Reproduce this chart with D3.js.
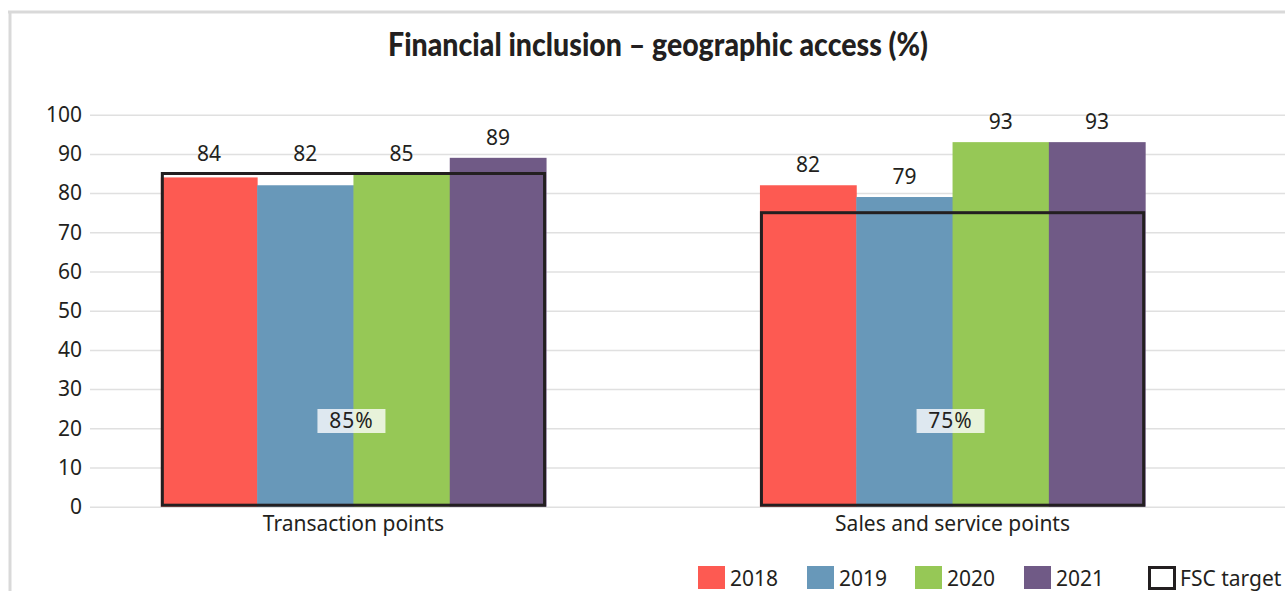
<!DOCTYPE html>
<html>
<head>
<meta charset="utf-8">
<script src="https://cdn.jsdelivr.net/npm/d3@7"></script>
<style>
  body { margin: 0; background: #fff; }
  svg { display: block; }
  text { font-family: "Noto Sans", "Open Sans", sans-serif; fill: #231f20; }
</style>
</head>
<body>
<svg width="1285" height="591"></svg>
<script>
// data
var categories = ["Transaction points", "Sales and service points"];
var years = ["2018", "2019", "2020", "2021"];
var values2018 = [84, 82];
var values2019 = [82, 79];
var values2020 = [85, 93];
var values2021 = [89, 93];
var fscTarget = [85, 75];
var yTicks = [0, 10, 20, 30, 40, 50, 60, 70, 80, 90, 100];
var colors = ["#fd5a52", "#6898b9", "#96c856", "#705a86"];

var series = [values2018, values2019, values2020, values2021];

var svg = d3.select("svg");

// frame lines
svg.append("line").attr("x1", 8).attr("x2", 1285).attr("y1", 12).attr("y2", 12)
  .attr("stroke", "#d9d9d9").attr("stroke-width", 3);
svg.append("line").attr("x1", 10).attr("x2", 10).attr("y1", 12).attr("y2", 591)
  .attr("stroke", "#d9d9d9").attr("stroke-width", 3);

// title
svg.append("text")
  .attr("x", 658).attr("y", 56)
  .attr("text-anchor", "middle")
  .attr("textLength", 540).attr("lengthAdjust", "spacingAndGlyphs")
  .style("font-family", "Lato, 'Open Sans', sans-serif")
  .style("font-weight", "900")
  .style("font-size", "32px")
  .text("Financial inclusion \u2013 geographic access (%)");

var y = d3.scaleLinear().domain([0, 100]).range([506.7, 114.7]);

var x = d3.scaleBand().domain(categories).range([53, 1253])
  .paddingInner(0.357).paddingOuter(0.18);

var xs = d3.scaleBand().domain(years).range([0, x.bandwidth()]);

// gridlines + y axis labels
var yAxis = svg.append("g").attr("transform", "translate(90,0)")
  .call(d3.axisLeft(y).tickValues(yTicks).tickSize(-1195).tickPadding(8));
yAxis.select(".domain").remove();
yAxis.selectAll(".tick line").attr("stroke", "#e0e0e0").attr("stroke-width", 1.5);
yAxis.selectAll(".tick text").style("font-size", "21px").attr("fill", "#231f20")
  .style("font-family", "'Noto Sans', sans-serif");

// bars
var groups = svg.selectAll(".grp").data(categories).enter().append("g")
  .attr("class", "grp")
  .attr("transform", function(d) { return "translate(" + x(d) + ",0)"; });

years.forEach(function(yr, si) {
  groups.append("rect")
    .attr("x", xs(yr))
    .attr("width", xs.bandwidth() + 0.5)
    .attr("y", function(d, i) { return y(series[si][i]); })
    .attr("height", function(d, i) { return y(0) - y(series[si][i]); })
    .attr("fill", colors[si]);
});

// FSC target boxes
groups.append("rect")
  .attr("x", 1.5)
  .attr("width", x.bandwidth() - 3)
  .attr("y", function(d, i) { return y(fscTarget[i]); })
  .attr("height", function(d, i) { return y(0) - 1.5 - y(fscTarget[i]); })
  .attr("fill", "none")
  .attr("stroke", "#231f20")
  .attr("stroke-width", 3);

// value labels (sit above the target box when the bar is just under it)
years.forEach(function(yr, si) {
  groups.append("text")
    .attr("x", xs(yr) + xs.bandwidth() / 2)
    .attr("y", function(d, i) {
      var v = series[si][i];
      var top = v < fscTarget[i] + 0.5 && v > fscTarget[i] - 5 ? fscTarget[i] : v;
      return y(Math.max(v, top)) - 13;
    })
    .attr("text-anchor", "middle")
    .style("font-size", "21px")
    .text(function(d, i) { return series[si][i]; });
});

// target labels
groups.append("rect")
  .attr("x", x.bandwidth() / 2 - 36)
  .attr("y", 409)
  .attr("width", 68)
  .attr("height", 24)
  .attr("fill", "#fff")
  .attr("fill-opacity", 0.78);
groups.append("text")
  .attr("x", x.bandwidth() / 2 - 2)
  .attr("y", 428)
  .attr("text-anchor", "middle")
  .style("font-size", "21px")
  .style("letter-spacing", "1px")
  .text(function(d, i) { return fscTarget[i] + "%"; });

// category labels
svg.append("g").selectAll("text").data(categories).enter().append("text")
  .attr("x", function(d) { return x(d) + x.bandwidth() / 2; })
  .attr("y", 531)
  .attr("text-anchor", "middle")
  .style("font-size", "21px")
  .text(function(d) { return d; });

// legend
var legendX = [698, 807, 915, 1024];
var legend = svg.append("g");
years.forEach(function(yr, si) {
  legend.append("rect").attr("x", legendX[si]).attr("y", 566)
    .attr("width", 27).attr("height", 23).attr("fill", colors[si]);
  legend.append("text").attr("x", legendX[si] + 32).attr("y", 586)
    .style("font-size", "21px").text(yr);
});
legend.append("rect").attr("x", 1149.5).attr("y", 567.5)
  .attr("width", 25).attr("height", 21)
  .attr("fill", "none").attr("stroke", "#231f20").attr("stroke-width", 3);
legend.append("text").attr("x", 1180).attr("y", 586)
  .style("font-size", "21px").text("FSC target");
</script>
</body>
</html>
